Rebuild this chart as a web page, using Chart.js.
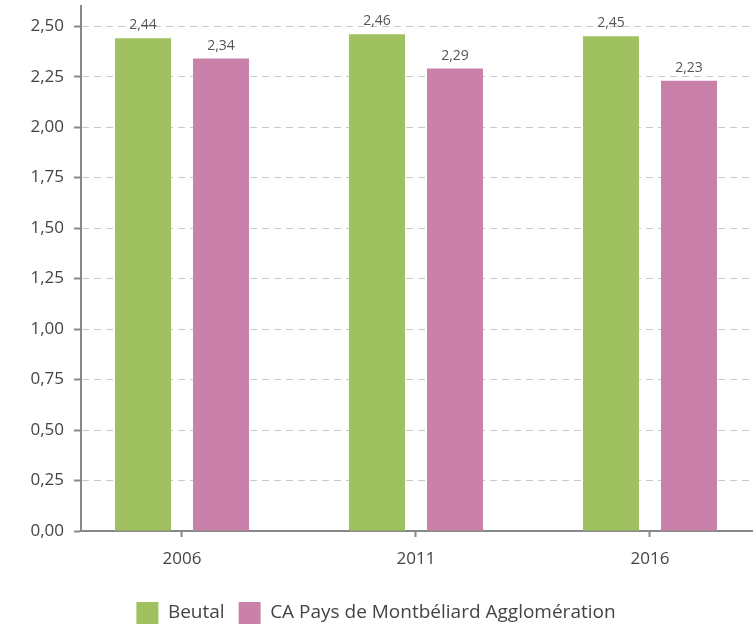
<!DOCTYPE html>
<html lang="fr">
<head>
    <meta charset="UTF-8">
    <title>Beutal</title>
    <script src="https://cdn.jsdelivr.net/npm/chart.js@4.4.1/dist/chart.umd.min.js"></script>
    <style>
        body { margin: 0; background: #fff; }
        #wrap { width: 756px; height: 624px; }
    </style>
</head>
<body>
<div id="wrap"><canvas id="myChart"></canvas></div>
<script>
    var years = ['2006', '2011', '2016'];
    var beutal = [2.44, 2.46, 2.45];
    var agglo = [2.34, 2.29, 2.23];
    var yTicksMax = 2.5;

    function fr(v) { return v.toFixed(2).replace('.', ','); }

    function toPoints(arr) {
        return arr.map(function (v, i) { return { x: i, y: v }; });
    }

    var valueLabels = {
        id: 'valueLabels',
        afterDatasetsDraw: function (chart) {
            var ctx = chart.ctx;
            ctx.save();
            ctx.font = '14px "Open Sans"';
            ctx.fillStyle = '#555';
            ctx.textAlign = 'center';
            ctx.textBaseline = 'alphabetic';
            chart.data.datasets.forEach(function (ds, d) {
                chart.getDatasetMeta(d).data.forEach(function (el, i) {
                    ctx.fillText(fr(ds.data[i].y), el.x, el.y - 9);
                });
            });
            ctx.restore();
        }
    };

    Chart.defaults.font.family = '"Open Sans", sans-serif';
    Chart.defaults.color = '#444';

    new Chart(document.getElementById('myChart'), {
        type: 'bar',
        data: {
            datasets: [{
                label: 'Beutal',
                data: toPoints(beutal),
                backgroundColor: '#a0c15f',
                borderWidth: 0
            }, {
                label: 'CA Pays de Montbéliard Agglomération',
                data: toPoints(agglo),
                backgroundColor: '#c981a9',
                borderWidth: 0
            }]
        },
        options: {
            responsive: true,
            maintainAspectRatio: false,
            animation: false,
            categoryPercentage: 0.667,
            barPercentage: 0.718,
            layout: { padding: { left: 0, right: 4, top: 6, bottom: -10 } },
            plugins: {
                tooltip: { enabled: false },
                legend: {
                    position: 'bottom',
                    labels: {
                        boxWidth: 22,
                        boxHeight: 22,
                        padding: 14,
                        color: '#444',
                        font: { size: 19 }
                    }
                }
            },
            scales: {
                x: {
                    type: 'linear',
                    offset: false,
                    min: -0.4316,
                    max: 2.436,
                    afterFit: function (s) { s.height = 57; s.paddingLeft = 0; s.paddingRight = 0; },
                    ticks: {
                        stepSize: 1,
                        includeBounds: false,
                        padding: 12,
                        color: '#444',
                        font: { size: 17 },
                        callback: function (v) { return years[v] !== undefined && Number.isInteger(v) ? years[v] : ''; }
                    },
                    grid: { offset: false, drawOnChartArea: false, tickLength: 6, tickColor: '#888', tickWidth: 2 },
                    border: { color: '#888', width: 2 }
                },
                y: {
                    min: 0,
                    max: 2.6,
                    afterFit: function (s) { s.width = 81; s.paddingTop = 0; s.paddingBottom = 0; },
                    ticks: {
                        stepSize: 0.25,
                        includeBounds: false,
                        padding: 10,
                        color: '#444',
                        font: { size: 17 },
                        callback: function (v) { return v <= yTicksMax ? fr(v) : ''; }
                    },
                    grid: { color: '#c8c8c8', tickColor: '#888', tickWidth: 2, tickLength: 7, lineWidth: 1 },
                    border: { color: '#888', width: 2, dash: [7, 5] }
                }
            }
        },
        plugins: [valueLabels]
    });
</script>
</body>
</html>
